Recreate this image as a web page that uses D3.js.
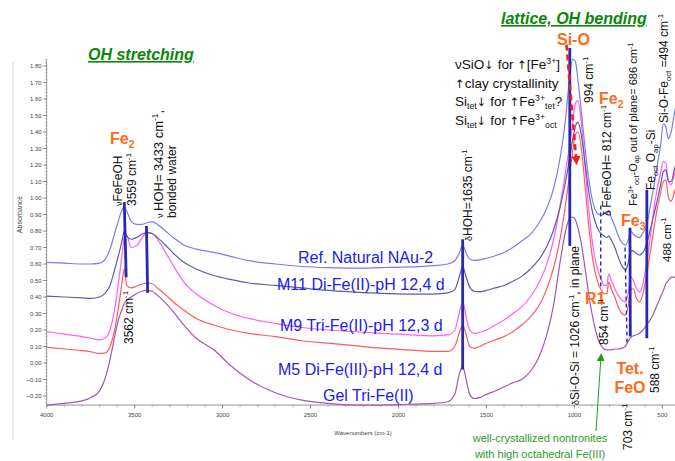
<!DOCTYPE html>
<html>
<head>
<meta charset="utf-8">
<script src="https://cdn.jsdelivr.net/npm/d3@7"></script>
<style>
  html, body { margin: 0; padding: 0; background: #fff; }
  svg { display: block; font-family: "Liberation Sans", Arial, sans-serif; }
</style>
</head>
<body>
<svg id="chart" width="675" height="461"></svg>
<script>
// FTIR absorbance spectra (wavenumber in cm-1, shared grid)
const wavenumbers = [
  4000,3900,3800,3750,3700,3670,3640,3610,3590,3570,
  3559,3545,3520,3490,3460,3430,3400,3370,3330,3280,
  3220,3150,3050,2950,2850,2700,2550,2400,2250,2100,
  1950,1800,1720,1680,1655,1635,1615,1595,1570,1540,
  1500,1450,1400,1350,1300,1250,1200,1160,1120,1080,
  1050,1030,1010,995,980,960,940,920,900,880,
  860,845,830,815,805,790,770,750,730,710,
  695,680,665,650,630,610,590,570,550,530,
  510,494,480,465,450,430,410
];

const refNAu2 = [
  0.61,0.605,0.60,0.60,0.605,0.625,0.69,0.80,0.87,0.93,
  0.945,0.92,0.86,0.84,0.84,0.85,0.855,0.84,0.805,0.76,
  0.715,0.69,0.67,0.645,0.62,0.60,0.585,0.578,0.575,0.578,
  0.582,0.59,0.60,0.62,0.665,0.715,0.665,0.63,0.622,0.625,
  0.635,0.65,0.67,0.70,0.74,0.78,0.85,0.93,1.05,1.25,
  1.48,1.70,1.84,1.83,1.72,1.52,1.31,1.13,1.00,0.925,
  0.90,0.895,0.91,0.90,0.925,0.88,0.83,0.77,0.73,0.715,
  0.74,0.80,0.78,0.77,0.76,0.79,0.83,0.94,1.06,1.19,
  1.32,1.45,1.43,1.36,1.40,1.52,1.62
];

const m11DiFe2 = [
  0.405,0.40,0.395,0.392,0.40,0.42,0.47,0.58,0.66,0.75,
  0.80,0.77,0.75,0.76,0.78,0.79,0.785,0.76,0.72,0.665,
  0.61,0.57,0.53,0.505,0.485,0.47,0.455,0.44,0.43,0.422,
  0.418,0.418,0.425,0.445,0.52,0.585,0.52,0.46,0.435,0.432,
  0.44,0.455,0.47,0.495,0.525,0.57,0.63,0.70,0.80,0.95,
  1.10,1.22,1.35,1.43,1.46,1.38,1.22,1.05,0.93,0.85,
  0.80,0.78,0.77,0.76,0.77,0.745,0.70,0.64,0.59,0.565,
  0.60,0.68,0.68,0.665,0.655,0.67,0.72,0.80,0.89,0.98,
  1.08,1.16,1.17,1.10,1.10,1.18,1.25
];

const m9TriFe2 = [
  0.19,0.175,0.16,0.15,0.14,0.15,0.20,0.35,0.50,0.67,
  0.76,0.77,0.70,0.71,0.755,0.79,0.785,0.75,0.68,0.59,
  0.49,0.42,0.35,0.30,0.27,0.24,0.215,0.20,0.19,0.18,
  0.172,0.165,0.17,0.20,0.30,0.37,0.28,0.20,0.18,0.185,
  0.20,0.23,0.26,0.30,0.34,0.40,0.49,0.59,0.74,0.96,
  1.16,1.30,1.45,1.57,1.59,1.45,1.20,0.95,0.75,0.62,
  0.54,0.50,0.47,0.47,0.54,0.50,0.45,0.41,0.38,0.37,
  0.42,0.52,0.50,0.46,0.43,0.48,0.60,0.75,0.92,1.05,
  1.15,1.22,1.21,1.10,1.08,1.15,1.22
];

const m5DiFe3 = [
  0.095,0.085,0.075,0.068,0.058,0.06,0.10,0.22,0.35,0.50,
  0.57,0.47,0.455,0.465,0.478,0.485,0.48,0.455,0.42,0.37,
  0.32,0.27,0.23,0.20,0.18,0.16,0.135,0.12,0.105,0.09,
  0.08,0.07,0.07,0.10,0.18,0.23,0.17,0.10,0.09,0.10,
  0.12,0.14,0.16,0.19,0.23,0.28,0.35,0.44,0.57,0.76,
  0.96,1.12,1.28,1.38,1.40,1.30,1.08,0.85,0.66,0.54,
  0.47,0.44,0.42,0.42,0.49,0.45,0.40,0.34,0.30,0.29,
  0.34,0.44,0.45,0.40,0.37,0.42,0.53,0.66,0.80,0.93,
  1.03,1.10,1.11,1.00,0.98,1.04,1.10
];

const gelTriFe2 = [
  -0.255,-0.245,-0.23,-0.21,-0.17,-0.10,0.02,0.18,0.27,0.33,
  0.36,0.38,0.40,0.42,0.435,0.44,0.435,0.41,0.37,0.31,
  0.23,0.15,0.08,-0.02,-0.10,-0.18,-0.225,-0.245,-0.255,-0.255,
  -0.25,-0.245,-0.235,-0.19,-0.07,-0.02,-0.10,-0.19,-0.215,-0.21,
  -0.19,-0.17,-0.145,-0.12,-0.10,-0.05,0.04,0.16,0.34,0.62,
  0.80,0.87,0.885,0.87,0.82,0.72,0.58,0.43,0.30,0.20,
  0.13,0.10,0.085,0.08,0.08,0.08,0.085,0.085,0.09,0.10,
  0.13,0.155,0.165,0.17,0.18,0.20,0.23,0.26,0.30,0.35,
  0.40,0.44,0.48,0.50,0.52,0.52,0.50
];

const seriesNames = ["Gel Tri-Fe(II)", "M5 Di-Fe(III)-pH 12,4 d", "M9 Tri-Fe(II)-pH 12,3 d",
                     "M11 Di-Fe(II)-pH 12,4 d", "Ref. Natural NAu-2"];
const seriesValues = [gelTriFe2, m5DiFe3, m9TriFe2, m11DiFe2, refNAu2];
const seriesColors = ["#a257b5", "#ff5b5b", "#ff5cff", "#5d5da6", "#7b7bf2"];
const seriesLabelPos = [[323, 401], [278, 375], [280, 331], [277, 290], [298, 263]];

const yTicks = d3.range(-0.2, 1.8001, 0.1);
const xTicks = [4000, 3500, 3000, 2500, 2000, 1500, 1000, 500];

// ---------------------------------------------------------------
const svg = d3.select("#chart");
const x = d3.scaleLinear().domain([4000, 400]).range([46.7, 679.9]);
const y = d3.scaleLinear().domain([-0.2, 1.8]).range([396, 66]);

const ORANGE = "#ff6a13", NAVY = "#2929b0", GREEN = "#0a870a";

svg.append("rect").attr("width", 675).attr("height", 461).attr("fill", "#fff");
svg.append("line").attr("x1", 13).attr("x2", 13).attr("y1", 62).attr("y2", 440)
   .attr("stroke", "#d4d4d4").attr("stroke-width", 1);

const defs = svg.append("defs");
function arrowMarker(id, color, size) {
  defs.append("marker").attr("id", id).attr("viewBox", "0 0 10 10")
    .attr("refX", 8).attr("refY", 5).attr("markerWidth", size).attr("markerHeight", size)
    .attr("orient", "auto").attr("markerUnits", "userSpaceOnUse")
    .append("path").attr("d", "M0,0 L10,5 L0,10 z").attr("fill", color);
}
arrowMarker("redHead", "#ff1a1a", 9);
arrowMarker("greenHead", "#1e9e1e", 8);

// ---------- axes ----------
const axisG = svg.append("g").attr("font-size", 6).attr("fill", "#444");
const yBottom = y(-0.255), yTop = y(1.84);
axisG.append("line").attr("x1", x(4000)).attr("x2", x(4000)).attr("y1", yBottom).attr("y2", yTop)
  .attr("stroke", "#777").attr("stroke-width", 0.8);
axisG.append("line").attr("x1", x(4000)).attr("x2", 675).attr("y1", yBottom).attr("y2", yBottom)
  .attr("stroke", "#777").attr("stroke-width", 0.8);

// minor y ticks
d3.range(-0.24, 1.841, 0.02).forEach(v => {
  axisG.append("line").attr("x1", x(4000) - 1.5).attr("x2", x(4000)).attr("y1", y(v)).attr("y2", y(v))
    .attr("stroke", "#888").attr("stroke-width", 0.6);
});
yTicks.forEach(v => {
  axisG.append("line").attr("x1", x(4000) - 3.5).attr("x2", x(4000)).attr("y1", y(v)).attr("y2", y(v))
    .attr("stroke", "#666").attr("stroke-width", 0.7);
  axisG.append("text").attr("x", x(4000) - 5).attr("y", y(v) + 2).attr("text-anchor", "end")
    .text(d3.format(".2f")(v));
});
// minor x ticks
d3.range(4000, 399, -100).forEach(w => {
  axisG.append("line").attr("x1", x(w)).attr("x2", x(w)).attr("y1", yBottom).attr("y2", yBottom + 2)
    .attr("stroke", "#888").attr("stroke-width", 0.6);
});
xTicks.forEach(w => {
  axisG.append("line").attr("x1", x(w)).attr("x2", x(w)).attr("y1", yBottom).attr("y2", yBottom + 3.5)
    .attr("stroke", "#666").attr("stroke-width", 0.7);
  axisG.append("text").attr("x", x(w)).attr("y", yBottom + 12).attr("text-anchor", "middle").text(w);
});
axisG.append("text").attr("transform", `translate(22,${y(0.9)}) rotate(-90)`)
  .attr("text-anchor", "middle").attr("font-size", 7).text("Absorbance");
axisG.append("text").attr("x", 363).attr("y", 435).attr("text-anchor", "middle")
  .attr("font-size", 6).text("Wavenumbers (cm-1)");

// ---------- spectra ----------
const line = d3.line().x(d => x(d[0])).y(d => y(d[1])).curve(d3.curveMonotoneX);
seriesValues.forEach((vals, i) => {
  const pts = wavenumbers.map((w, k) => [w, vals[k]]);
  svg.append("path").datum(pts).attr("d", line).attr("fill", "none")
    .attr("stroke", seriesColors[i]).attr("stroke-width", 1.2);
});

// ---------- rich text helper ----------
function label(px, py, parts, o = {}) {
  const size = o.size || 12;
  const t = svg.append("text")
    .attr("transform", `translate(${px},${py})` + (o.rotate ? " rotate(-90)" : ""))
    .attr("font-size", size).attr("fill", o.color || "#111")
    .attr("text-anchor", o.anchor || "start");
  if (o.weight) t.attr("font-weight", o.weight);
  if (o.italic) t.attr("font-style", "italic");
  if (o.underline) t.attr("text-decoration", "underline");
  let shift = 0;
  parts.forEach(p => {
    const q = typeof p === "string" ? { t: p } : p;
    const target = q.s === "sup" ? -size * 0.38 : q.s === "sub" ? size * 0.22 : (q.dy || 0);
    const ts = t.append("tspan").text(q.t).attr("dy", target - shift);
    if (q.s) ts.attr("font-size", size * 0.65);
    if (q.size) ts.attr("font-size", q.size);
    if (q.font) ts.attr("font-family", q.font);
    shift = target;
  });
  return t;
}
const CM = (n) => [n + " cm", { t: "-1", s: "sup" }];
const DOWN = { t: "↓", font: "DejaVu Sans", size: 11.5 }, UP = { t: "↑", font: "DejaVu Sans", size: 11.5 };

// ---------- peak marker lines ----------
function marker(w1, v1, w2, v2, dashed) {
  svg.append("line").attr("x1", x(w1)).attr("y1", y(v1)).attr("x2", x(w2)).attr("y2", y(v2))
    .attr("stroke", NAVY).attr("stroke-width", dashed ? 1.4 : 2.8)
    .attr("stroke-dasharray", dashed ? "4,3" : null);
}
marker(3559, 0.975, 3548, 0.52);
marker(3433, 0.83, 3426, 0.425);
marker(1635, 0.75, 1635, -0.04);
marker(1026, 1.91, 1026, 0.71);
marker(684, 0.82, 682, 0.16);
marker(588, 1.05, 588, 0.15);
marker(850, 0.955, 850, 0.46, true);
marker(712, 0.70, 700, 0.11, true);

// red dashed arrow: Si-O shift
svg.append("line").attr("x1", x(1045)).attr("y1", y(1.93)).attr("x2", x(988)).attr("y2", y(1.21))
  .attr("stroke", "#ff1a1a").attr("stroke-width", 2.6).attr("stroke-dasharray", "6,4")
  .attr("marker-end", "url(#redHead)");

// green arrow toward 854 cm-1
svg.append("line").attr("x1", 596).attr("y1", 431).attr("x2", x(848)).attr("y2", y(0.05))
  .attr("stroke", "#1e9e1e").attr("stroke-width", 1).attr("marker-end", "url(#greenHead)");

// ---------- section titles ----------
label(88, 60, ["OH stretching"], { size: 16, color: GREEN, weight: "bold", italic: true, underline: true });
label(501, 24, ["lattice, OH bending"], { size: 16, color: GREEN, weight: "bold", italic: true, underline: true });

// ---------- series labels ----------
seriesNames.forEach((n, i) => {
  label(seriesLabelPos[i][0], seriesLabelPos[i][1], [n], { size: 16, color: "#2020ee" });
});

// ---------- orange band labels ----------
const ob = { size: 16, color: ORANGE, weight: "bold" };
label(110, 144, ["Fe", { t: "2", s: "sub" }], ob);
label(557, 45, ["Si-O"], ob);
label(599, 104, ["Fe", { t: "2", s: "sub" }], ob);
label(585, 304, ["R1"], ob);
label(621, 226, ["Fe", { t: "3", s: "sub" }], ob);
label(630, 374, ["Tet."], Object.assign({ anchor: "middle" }, ob));
label(630, 393, ["FeO"], Object.assign({ anchor: "middle" }, ob));

// ---------- vertical band annotations ----------
const V = { rotate: true, size: 12 };
label(122, 206, [{ t: "ν", size: 9 }, "FeFeOH"], V);
label(136, 206, CM("3559"), V);
label(133, 344, CM("3562"), V);
label(163, 218, [{ t: "ν ", size: 9 }, "HOH= 3433 cm", { t: "-1", s: "sup" }, ","], { rotate: true, size: 13 });
label(176, 218, ["bonded water"], V);
label(472, 241, [{ t: "δ", size: 9 }, "HOH=1635 cm", { t: "-1", s: "sup" }], V);
label(593, 103, CM("994"), V);
label(579, 405, [{ t: "δ", size: 9 }, "Si-O-Si = 1026 cm", { t: "-1", s: "sup" }, ", in plane"], V);
label(611, 216, [{ t: "δ ", size: 10 }, "FeFeOH= 812 cm", { t: "-1", s: "sup" }], V);
label(608, 345, CM("854"), V);
label(637, 206, ["Fe", { t: "3+", s: "sup" }, { t: "oct", s: "sub" }, "-O", { t: "ap", s: "sub" },
                 " out of plane= 686 cm", { t: "-1", s: "sup" }], { rotate: true, size: 11 });
label(632, 450, CM("703"), V);
label(655, 190, ["Fe", { t: "oct", s: "sub" }, " O", { t: "ap", s: "sub" }, "-Si"], V);
label(659, 393, CM("588"), V);
label(668, 123, ["Si-O-Fe", { t: "oct", s: "sub" }, " =494 cm", { t: "-1", s: "sup" }], V);
label(670.5, 262, CM("488"), { rotate: true, size: 11.5 });

// ---------- Si-O trend notes ----------
const N = { size: 13.5 };
label(455, 69, ["νSiO", DOWN, " for ", UP, "[Fe", { t: "3+", s: "sup" }, "]"], N);
label(455, 88, [UP, "clay crystallinity"], N);
label(455, 106, ["Si", { t: "tet", s: "sub" }, DOWN, " for ", UP, "Fe", { t: "3+", s: "sup" }, { t: "tet", s: "sub" }, "?"], N);
label(455, 125, ["Si", { t: "tet", s: "sub" }, DOWN, " for ", UP, "Fe", { t: "3+", s: "sup" }, { t: "oct", s: "sub" }], N);

// ---------- nontronite note ----------
label(540, 442, ["well-crystallized nontronites"], { size: 11, color: "#2a9a2a", anchor: "middle" });
label(540, 458, ["with high octahedral Fe(III)"], { size: 11, color: "#2a9a2a", anchor: "middle" });
</script>
</body>
</html>
